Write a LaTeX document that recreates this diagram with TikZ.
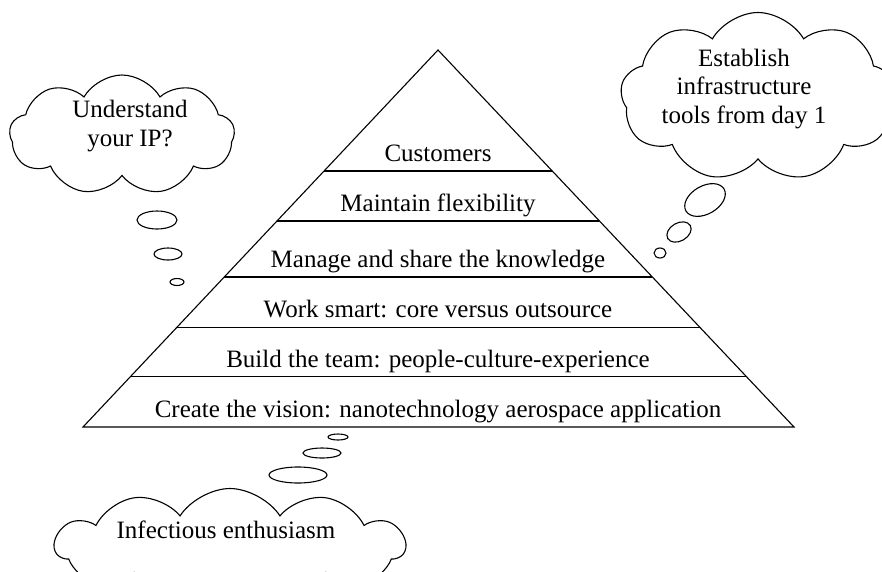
\documentclass[tikz,border=0pt]{standalone}
\usepackage{fontspec}
\setmainfont{Liberation Serif}
\usetikzlibrary{calc,shapes.symbols}

\begin{document}
\begin{tikzpicture}[x=1pt, y=-1pt, line width=1.1pt,
    every node/.style={font=\fontsize{25}{28.5}\selectfont, align=center},
    thought/.style={draw, cloud, cloud puffs=9, cloud puff arc=120, cloud ignores aspect, inner sep=0pt}]
    \useasboundingbox (0,0) rectangle (882,571);
    \clip (0,0) rectangle (882,571);
    \coordinate (top) at (438,50);
    \coordinate (bl) at (83,427);
    \coordinate (br) at (794,427);
    \draw (top) -- (bl) -- (br) -- cycle;
    \foreach \t in {0.321,0.4536,0.602,0.735,0.867}
        \draw ($(top)!\t!(bl)$) -- ($(top)!\t!(br)$);
    \foreach \y/\name/\txt in {161/cust/Customers, 211/flex/Maintain flexibility,
        267/know/Manage and share the knowledge, 317/work/Work smart: core versus outsource,
        367/team/Build the team: people-culture-experience,
        417/vision/Create the vision: nanotechnology aerospace application}
        \node[anchor=base] (\name) at (438,\y) {\txt};
    \node[thought, minimum width=225pt, minimum height=120pt] (ipcloud) at (122,135) {};
    \node (ip) at (130,126) {Understand\\your IP?};
    \node[thought, minimum width=275pt, minimum height=169pt] (infracloud) at (758,97) {};
    \node (infra) at (744,89) {Establish\\infrastructure\\tools from day 1};
    \node[thought, cloud puffs=11, cloud puff arc=115, minimum width=350pt, minimum height=115pt] (enthcloud) at (230,546) {};
    \node (enth) at (226,530) {Infectious enthusiasm};
    \draw (157,220) ellipse [x radius=20, y radius=9];
    \draw (168,254) ellipse [x radius=14, y radius=6];
    \draw (177,282) ellipse [x radius=7, y radius=3.5];
    \draw[rotate around={30:(705,200)}] (705,200) ellipse [x radius=22, y radius=14];
    \draw[rotate around={30:(679,232)}] (679,232) ellipse [x radius=13, y radius=9];
    \draw (660,253) ellipse [x radius=6, y radius=5];
    \draw (338,437) ellipse [x radius=10, y radius=3];
    \draw (322,453) ellipse [x radius=19, y radius=5];
    \draw (298,475) ellipse [x radius=29, y radius=8];
\end{tikzpicture}
\end{document}
